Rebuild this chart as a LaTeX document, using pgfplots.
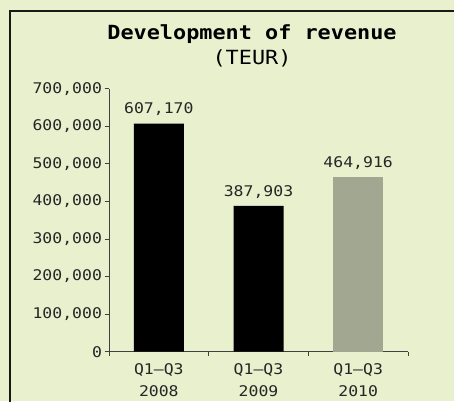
\documentclass[border=0pt]{standalone}
\usepackage{fontspec}
\setmainfont{DejaVu Sans Mono}[FakeStretch=1.12]
\usepackage{pgfplots}
\pgfplotsset{compat=1.18}
\definecolor{bg}{RGB}{233,240,206}
\definecolor{bargrey}{RGB}{162,167,145}
\definecolor{axisgrey}{RGB}{64,64,64}
\newcommand{\tf}{\fontsize{14.7}{22}\selectfont}
\begin{document}
\begin{tikzpicture}[x=1pt,y=1pt]
\useasboundingbox (0,0) rectangle (454,401);
\fill[bg] (0,0) rectangle (454,401);
\draw[line width=1.3pt, black!90] (10,-2) -- (10,390) -- (456,390);
\node[align=center, inner sep=0pt] at (252,355)
  {{\fontsize{19.5}{26}\selectfont\bfseries Development of revenue}\\[5pt]
   {\fontsize{19.5}{26}\selectfont (TEUR)}};
\begin{axis}[
  at={(109pt,49.3pt)}, anchor=south west,
  scale only axis, width=299pt, height=263pt,
  xmin=-0.5, xmax=2.5, ymin=0, ymax=700000,
  axis x line*=bottom, axis y line*=left,
  axis line style={axisgrey, line width=0.9pt},
  every tick/.style={axisgrey, line width=0.9pt},
  tick align=outside, major tick length=4.5pt,
  ytick={0,100000,200000,300000,400000,500000,600000,700000},
  scaled y ticks=false,
  /pgf/number format/assume math mode=true,
  yticklabel style={font=\tf, text=black!85, xshift=1pt, /pgf/number format/.cd, fixed, 1000 sep={,}},
  xtick={-0.5,0.5,1.5,2.5}, xticklabels={},
  extra x ticks={0,1,2},
  extra x tick labels={Q1--Q3\\2008, Q1--Q3\\2009, Q1--Q3\\2010},
  extra x tick style={major tick length=0pt,
     xticklabel style={font=\tf, text=black!85, align=center, yshift=-8pt}},
  ybar, bar width=50pt, bar shift=0pt,
  nodes near coords={\pgfmathprintnumber[fixed,1000 sep={,}]{\pgfplotspointmeta}},
  every node near coord/.append style={font=\tf, text=black!85, yshift=4pt},
  clip=false,
]
\addplot[fill=black, draw=none] coordinates {(0,607170) (1,387903)};
\addplot[fill=bargrey, draw=none] coordinates {(2,464916)};
\end{axis}
\end{tikzpicture}
\end{document}
